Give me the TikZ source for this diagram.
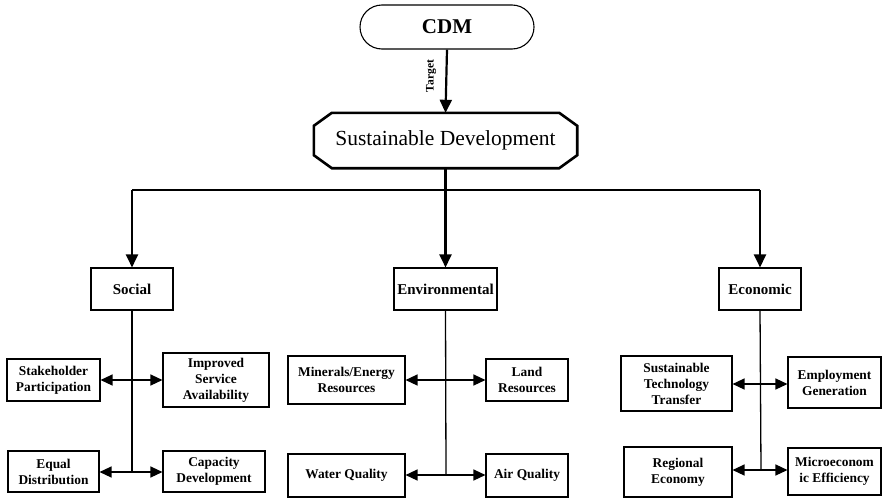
\documentclass[tikz,border=0pt]{standalone}
\usepackage{fontspec}
\setmainfont{Liberation Serif}
\usetikzlibrary{arrows.meta}
\begin{document}
\begin{tikzpicture}[x=1pt,y=-1pt,
  box/.style={draw, line width=1.1pt, align=center, inner sep=0pt,
    font=\bfseries\fontsize{13.4}{16}\selectfont},
  catbox/.style={draw, line width=1.1pt, align=center, inner sep=0pt,
    minimum height=42, font=\bfseries\fontsize{15}{18}\selectfont},
  mainline/.style={line width=2.2pt},
  mainarrow/.style={line width=2.2pt, -{Triangle[length=13pt,width=12pt]}},
  branch/.style={line width=1.3pt},
  twoway/.style={line width=1.3pt, {Triangle[length=12pt,width=11pt]}-{Triangle[length=12pt,width=11pt]}}]
\useasboundingbox (0,0) rectangle (882,498);

% top of the hierarchy
\node[draw, line width=1.1pt, rounded corners=22, minimum width=174, minimum height=44,
  inner sep=0pt, font=\bfseries\fontsize{21}{24}\selectfont] (cdm) at (447,27) {CDM};
\node[minimum width=263, minimum height=55, inner sep=0pt,
  font=\fontsize{21.5}{24}\selectfont] (sd) at (445.5,140.5) {Sustainable Development};
\draw[line width=2.6pt, line join=miter]
  ([xshift=18pt]sd.north west) -- ([xshift=-18pt]sd.north east)
  -- ([yshift=-13pt]sd.north east) -- ([yshift=13pt]sd.south east)
  -- ([xshift=-18pt]sd.south east) -- ([xshift=18pt]sd.south west)
  -- ([yshift=13pt]sd.south west) -- ([yshift=-13pt]sd.north west) -- cycle;
\draw[mainarrow] (cdm.south) -- (sd.north);
\node[rotate=90, inner sep=0pt, font=\bfseries\fontsize{11.5}{13}\selectfont] (tgt) at (431,76) {Target};

% three pillars
\node[catbox, minimum width=82] (soc) at (132,289) {Social};
\node[catbox, minimum width=103] (env) at (445.5,289) {Environmental};
\node[catbox, minimum width=82] (eco) at (760,289) {Economic};

\coordinate (bus) at (445.5,190);
\draw[mainline] (sd.south) -- (bus);
\draw[mainline] (soc.north |- bus) -- (eco.north |- bus);
\draw[mainarrow] (soc.north |- bus) -- (soc.north);
\draw[mainarrow] (env.north |- bus) -- (env.north);
\draw[mainarrow] (eco.north |- bus) -- (eco.north);

% social indicators
\node[box, minimum width=93, minimum height=42] (sp) at (53.5,380) {Stakeholder\\Participation};
\node[box, minimum width=106, minimum height=54] (isa) at (216,380) {Improved\\Service\\Availability};
\node[box, minimum width=91, minimum height=41] (ed) at (53.5,471.5) {Equal\\Distribution};
\node[box, minimum width=102, minimum height=41] (cd) at (214,471.5) {Capacity\\Development};
\coordinate (s1) at (132,380);
\coordinate (s2) at (132,472);
\draw[branch] (soc.south) -- (s2);
\draw[twoway] (sp.east |- s1) -- (isa.west |- s1);
\draw[twoway] (ed.east |- s2) -- (cd.west |- s2);

% environmental indicators
\node[box, minimum width=117, minimum height=48] (mer) at (346.5,380) {Minerals/Energy\\Resources};
\node[box, minimum width=82, minimum height=42] (lr) at (527,380) {Land\\Resources};
\node[box, minimum width=117, minimum height=43] (wq) at (346.5,475.5) {Water Quality};
\node[box, minimum width=82, minimum height=43] (aq) at (527,475.5) {Air Quality};
\coordinate (e1) at (446,380);
\coordinate (e2) at (446,475);
\draw[branch] (env.south) -- (e2);
\draw[twoway] (mer.east |- e1) -- (lr.west |- e1);
\draw[twoway] (wq.east |- e2) -- (aq.west |- e2);

% economic indicators
\node[box, minimum width=111, minimum height=55] (stt) at (676.5,383.5) {Sustainable\\Technology\\Transfer};
\node[box, minimum width=93, minimum height=51] (eg) at (834.5,382.5) {Employment\\Generation};
\node[box, minimum width=108, minimum height=50] (re) at (678,472) {Regional\\Economy};
\node[box, minimum width=93, minimum height=47] (me) at (834.5,471.5) {Microeconom\\ic Efficiency};
\coordinate (c1) at (761,384);
\coordinate (c2) at (761,470);
\draw[branch] (eco.south) -- (c2);
\draw[twoway] (stt.east |- c1) -- (eg.west |- c1);
\draw[twoway] (re.east |- c2) -- (me.west |- c2);
\end{tikzpicture}
\end{document}
